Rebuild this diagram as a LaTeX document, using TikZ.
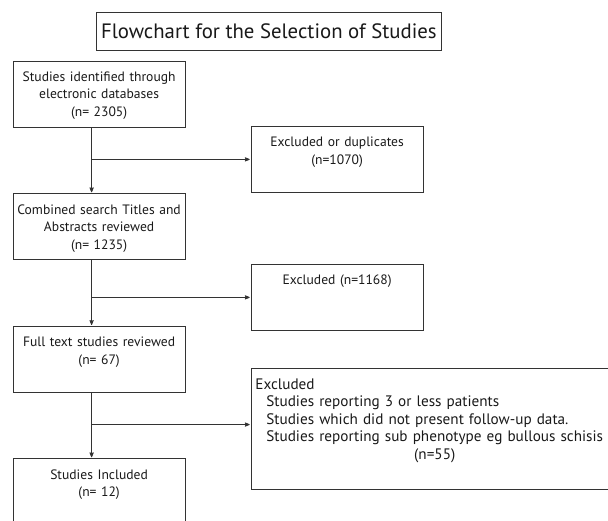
\documentclass[tikz,border=0pt]{standalone}
\usepackage{fontspec}
\setmainfont{PT Sans}
\usetikzlibrary{arrows,positioning}
\tikzstyle{stage}=[draw=black!80,line width=0.8pt,anchor=north west,inner sep=0pt,
	text width=172pt,align=center,text height=20.3pt,text depth=45.7pt]

\begin{document}
\begin{tikzpicture}[x=1pt,y=-1pt,->,>=stealth',shorten >=1pt,line width=0.8pt,draw=black!80,
		every node/.style={font=\fontsize{13.6}{17.5}\selectfont,text=black!90}]
		\useasboundingbox (0,0) rectangle (608,520);
		\clip (0,0) rectangle (608,520);
		
		\node[draw=black!80,anchor=north west,inner sep=0pt,minimum width=345pt,minimum height=38pt,
			font=\fontsize{20.8}{25}\selectfont]   (title)   at (96,12)  {Flowchart for the Selection of Studies};
		
		\node[stage]    (found)     at (12.7,60.7)   {Studies identified through\\ electronic databases\\ (n= 2305)};
		\node[stage]    (screened)  at (12.7,193.3)  {Combined search Titles and\\ Abstracts reviewed\\ (n= 1235)};
		\node[stage]    (fulltext)  at (12.7,326)    {Full text studies reviewed\\ (n= 67)};
		\node[stage,text depth=90pt]    (included)  at (12.7,458.3)  {Studies Included\\ (n= 12)};
		
		\node[stage]    (dupl)      at (250.7,126)   {Excluded or duplicates\\ (n=1070)};
		\node[stage]    (excl)      at (250.7,264)   {Excluded (n=1168)};
		\node[stage,text width=372pt,inner xsep=4.3pt,align=left,text depth=100.4pt,
			font=\fontsize{15.2}{17.5}\selectfont]    (reasons)   at (250.7,368.3)
			{Excluded\\
			\hspace*{11pt}\begin{tabular}[t]{@{}l@{}}Studies reporting 3 or less patients\\
				Studies which did not present follow-up data.\\
				Studies reporting sub phenotype eg bullous schisis\\
				\multicolumn{1}{@{}c@{}}{(n=55)}\end{tabular}};
		
		\path 
		([xshift=-7.5pt]found.south) edge ([xshift=-7.5pt]screened.north)
		([xshift=-7.5pt]screened.south) edge ([xshift=-7.5pt]fulltext.north)
		([xshift=-7.5pt]fulltext.south) edge ([xshift=-7.5pt]included.north)
		
		([xshift=-7.5pt]found.south |- dupl.west) edge (dupl.west)
		([xshift=-7.5pt]screened.south |- excl.west) edge (excl.west)
		([xshift=-7.5pt,yshift=4.5pt]fulltext.south |- reasons.west) edge ([yshift=4.5pt]reasons.west);
		
\end{tikzpicture}
\end{document}
